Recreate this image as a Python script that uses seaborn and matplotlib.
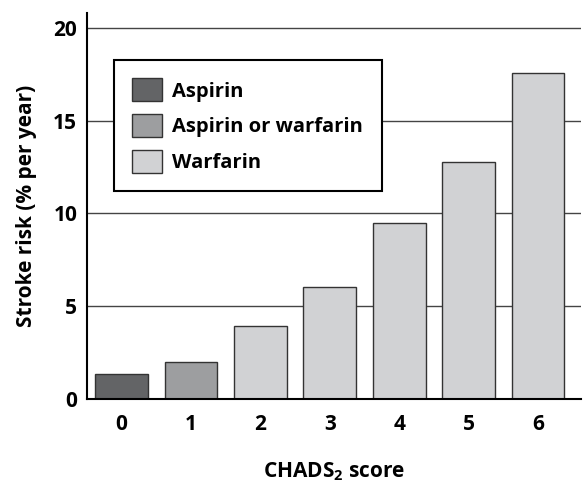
import pandas as pd
import matplotlib.pyplot as plt
import seaborn as sns

scores = ["0", "1", "2", "3", "4", "5", "6"]
stroke_risk = [1.33, 2.0, 3.94, 6.02, 9.5, 12.78, 17.55]
treatment = ["Aspirin", "Aspirin or warfarin", "Warfarin", "Warfarin",
             "Warfarin", "Warfarin", "Warfarin"]
treatment_order = ["Aspirin", "Aspirin or warfarin", "Warfarin"]
colors = {"Aspirin": "#636466", "Aspirin or warfarin": "#9d9ea0", "Warfarin": "#d1d2d4"}

df = pd.DataFrame({"score": scores, "risk": stroke_risk, "treatment": treatment})

sns.set_style("white", {"text.color": "black", "axes.labelcolor": "black",
                        "xtick.color": "black", "ytick.color": "black"})
plt.rcParams["font.family"] = ["Open Sans", "DejaVu Sans"]
plt.rcParams["font.weight"] = "bold"
plt.rcParams["mathtext.fontset"] = "custom"
plt.rcParams["mathtext.bf"] = "Open Sans:bold"
plt.rcParams["mathtext.rm"] = "Open Sans:bold"

fig = plt.figure(figsize=(5.85, 4.88), dpi=100)
ax = fig.add_axes([0.1487, 0.1824, 0.993 - 0.1487, 0.9734 - 0.1824])

sns.barplot(data=df, x="score", y="risk", hue="treatment", hue_order=treatment_order,
            palette=colors, dodge=False, width=0.76, edgecolor="#333333",
            linewidth=1.0, ax=ax)

ax.set_xlim(-0.5, 6.62)
ax.set_ylim(0, 20.8)
ax.set_yticks([0, 5, 10, 15, 20])
ax.set_axisbelow(True)
ax.yaxis.grid(True, color="#444444", linewidth=1.0)
ax.xaxis.grid(False)

for side in ["top", "right"]:
    ax.spines[side].set_visible(False)
for side in ["left", "bottom"]:
    ax.spines[side].set_color("black")
    ax.spines[side].set_linewidth(1.5)

ax.tick_params(axis="both", length=0, labelsize=15, colors="black")
ax.tick_params(axis="y", pad=7)
ax.tick_params(axis="x", pad=11)
for lab in ax.get_xticklabels() + ax.get_yticklabels():
    lab.set_fontweight("bold")

ax.set_ylabel("Stroke risk (% per year)", fontsize=15, fontweight="bold", labelpad=12)
ax.set_xlabel(r"CHADS$_\mathbf{2}$ score", fontsize=15, fontweight="bold", labelpad=18)

leg = ax.legend(loc="upper left", bbox_to_anchor=(0.0547, 0.541, 0.542, 0.337),
                mode="expand", borderaxespad=0, fancybox=False, framealpha=1,
                edgecolor="black", handlelength=1.5, handleheight=1.4,
                handletextpad=0.5, labelspacing=0.62, borderpad=0.9,
                prop={"weight": "bold", "size": 14.5})
leg.get_frame().set_linewidth(1.5)
for h in leg.legend_handles:
    h.set_edgecolor("#333333")

fig.savefig("out.png", dpi=100)
